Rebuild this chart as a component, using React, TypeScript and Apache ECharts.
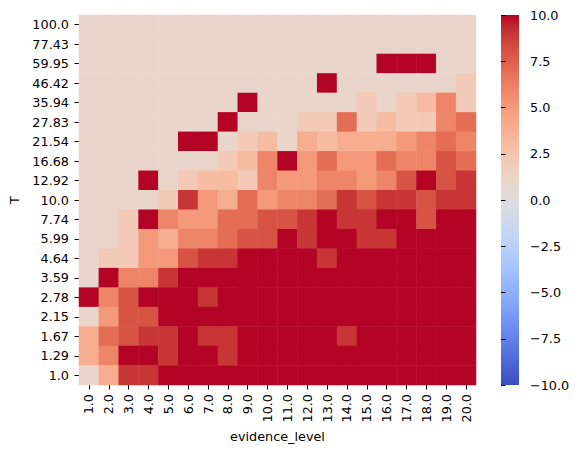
import React, { useEffect, useRef } from "react";
import * as echarts from "echarts";

// evidence_level categories (x)
const xLabels = ["1.0","2.0","3.0","4.0","5.0","6.0","7.0","8.0","9.0","10.0","11.0","12.0","13.0","14.0","15.0","16.0","17.0","18.0","19.0","20.0"];
// T categories (y), top to bottom
const yLabels = ["100.0","77.43","59.95","46.42","35.94","27.83","21.54","16.68","12.92","10.0","7.74","5.99","4.64","3.59","2.78","2.15","1.67","1.29","1.0"];

// values per T row, evidence_level 1..20
const t100_0 = [1,1,1,1,1,1,1,1,1,1,1,1,1,1,1,1,1,1,1,1];
const t77_43 = [1,1,1,1,1,1,1,1,1,1,1,1,1,1,1,1,1,1,1,1];
const t59_95 = [1,1,1,1,1,1,1,1,1,1,1,1,1,1,1,10,10,10,1,1];
const t46_42 = [1,1,1,1,1,1,1,1,1,1,1,1,10,1,1,1,1,1,1,2];
const t35_94 = [1,1,1,1,1,1,1,1,10,1,1,1,1,1,2,1,2,3,6,2];
const t27_83 = [1,1,1,1,1,1,1,10,1,1,1,2,2,7,2,3,2,2,6,7];
const t21_54 = [1,1,1,1,1,10,10,1,2,3,1,4,3,4,4,4,5,6,7,6];
const t16_68 = [1,1,1,1,1,1,1,2,3,6,10,5,7,5,5,7,6,6,8,7];
const t12_92 = [1,1,1,10,1,2,3,3,2,6,5,5,6,6,5,6,8,10,8,9];
const t10_0 = [1,1,1,1,2,9,5,4,7,5,6,6,7,9,8,9,9,8,9,9];
const t7_74 = [1,1,2,10,6,5,5,7,7,8,8,9,10,9,9,10,10,8,10,10];
const t5_99 = [1,1,2,5,4,6,6,7,8,8,10,9,10,10,9,9,10,10,10,10];
const t4_64 = [1,2,2,5,5,8,9,9,10,10,10,10,9,10,10,10,10,10,10,10];
const t3_59 = [1,10,6,6,9,10,10,10,10,10,10,10,10,10,10,10,10,10,10,10];
const t2_78 = [10,6,8,10,10,10,9,10,10,10,10,10,10,10,10,10,10,10,10,10];
const t2_15 = [1,5,8,8,10,10,10,10,10,10,10,10,10,10,10,10,10,10,10,10];
const t1_67 = [4,7,8,9,9,10,9,9,10,10,10,10,10,9,10,10,10,10,10,10];
const t1_29 = [4,6,10,10,9,10,10,9,10,10,10,10,10,10,10,10,10,10,10,10];
const t1_0 = [1,4,9,9,10,10,10,10,10,10,10,10,10,10,10,10,10,10,10,10];

const rows = [t100_0,t77_43,t59_95,t46_42,t35_94,t27_83,t21_54,t16_68,t12_92,t10_0,t7_74,t5_99,t4_64,t3_59,t2_78,t2_15,t1_67,t1_29,t1_0];

// coolwarm colormap (Moreland), evenly spaced from -10 to 10
const coolwarm = [
  "rgb(59,76,192)","rgb(68,90,204)","rgb(77,104,215)","rgb(87,117,225)","rgb(98,130,234)",
  "rgb(108,142,241)","rgb(119,154,247)","rgb(130,165,251)","rgb(141,176,254)","rgb(152,185,255)",
  "rgb(163,194,255)","rgb(174,201,253)","rgb(184,208,249)","rgb(194,213,244)","rgb(204,217,238)",
  "rgb(213,219,230)","rgb(221,221,221)","rgb(229,216,209)","rgb(236,211,197)","rgb(241,204,185)",
  "rgb(245,196,173)","rgb(247,187,160)","rgb(247,177,148)","rgb(247,166,135)","rgb(244,154,123)",
  "rgb(241,141,111)","rgb(236,127,99)","rgb(229,112,88)","rgb(222,96,77)","rgb(213,80,66)",
  "rgb(203,62,56)","rgb(192,40,47)","rgb(180,4,38)"
];

const FONT = "DejaVu Sans";
const FS = 12.8;

export default function App() {
  const ref = useRef<HTMLDivElement>(null);
  useEffect(() => {
    document.body.style.margin = "0";
    if (!ref.current) return;
    const chart = echarts.init(ref.current, undefined, { renderer: "svg" });
    const data: number[][] = [];
    rows.forEach((r, yi) => r.forEach((v, xi) => data.push([xi, yi, v])));
    const n = coolwarm.length;
    const gradStops = coolwarm.map((c, i) => ({ offset: i / (n - 1), color: coolwarm[n - 1 - i] }));
    const labelStyle = { color: "#000", fontFamily: FONT, fontSize: FS };
    chart.setOption({
      animation: false,
      backgroundColor: "#fff",
      grid: [
        { left: 79, top: 15, width: 397, height: 370, outerBoundsMode: "none", containLabel: false },
        {
          left: 501, top: 15, width: 18, height: 370, show: true, borderWidth: 0,
          backgroundColor: new echarts.graphic.LinearGradient(0, 0, 0, 1, gradStops),
          outerBoundsMode: "none", containLabel: false,
        },
      ],
      xAxis: [
        {
          type: "category", data: xLabels, gridIndex: 0,
          axisLine: { show: false },
          axisTick: { show: true, alignWithLabel: true, length: 4.5, lineStyle: { color: "#000", width: 1 } },
          axisLabel: { ...labelStyle, rotate: 90, margin: 9, interval: 0 },
          splitLine: { show: false },
          name: "evidence_level", nameLocation: "middle", nameGap: 45,
          nameTextStyle: { ...labelStyle },
        },
        { type: "value", gridIndex: 1, show: false, min: 0, max: 1 },
      ],
      yAxis: [
        {
          type: "category", data: yLabels, inverse: true, gridIndex: 0,
          axisLine: { show: false },
          axisTick: { show: true, alignWithLabel: true, length: 4.5, lineStyle: { color: "#000", width: 1 } },
          axisLabel: { ...labelStyle, margin: 10, interval: 0 },
          splitLine: { show: false },
          name: "T", nameLocation: "middle", nameGap: 57,
          nameTextStyle: { ...labelStyle },
        },
        {
          type: "value", gridIndex: 1, position: "right", min: -10, max: 10, interval: 2.5,
          axisLine: { show: false },
          axisTick: { show: true, length: 4.5, lineStyle: { color: "#000", width: 1 } },
          axisLabel: {
            ...labelStyle, margin: 11,
            formatter: (v: number) => v.toFixed(1).replace("-", "\u2212"),
          },
          splitLine: { show: false },
        },
      ],
      visualMap: {
        type: "continuous", show: false, min: -10, max: 10, seriesIndex: 0,
        inRange: { color: coolwarm },
      },
      series: [
        {
          type: "heatmap", xAxisIndex: 0, yAxisIndex: 0, data,
          itemStyle: { borderWidth: 0 },
          emphasis: { disabled: true },
        },
      ],
    });
    return () => chart.dispose();
  }, []);
  return <div ref={ref} style={{ width: 581, height: 455, position: "absolute", left: 0, top: 0 }} />;
}
